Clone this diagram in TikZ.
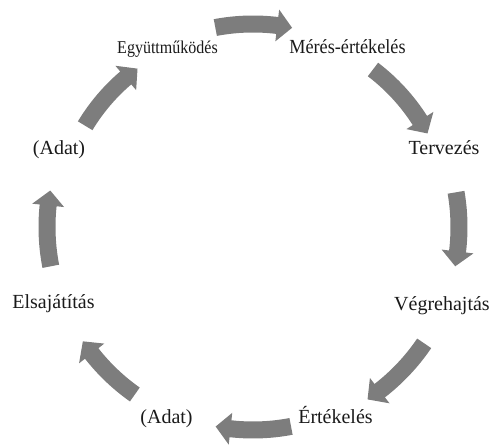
\documentclass[tikz,border=0pt]{standalone}
\usepackage{fontspec}
\setmainfont{Liberation Serif}
\usepackage{graphicx}
\definecolor{arrowgray}{HTML}{7D7D7D}
\definecolor{inkgray}{HTML}{1A1A1A}
% curved block arrow along a circle round the current origin:
% #1 tail angle, #2 tip angle, #3 radius of the centre line (pt)
\newcommand{\cyclearrow}[3]{%
  \pgfmathsetmacro\arHead{#2+15/#3*57.2958}%
  \pgfmathsetmacro\arOut{#3+8.5}%
  \pgfmathsetmacro\arIn{#3-8.5}%
  \pgfmathsetmacro\arWOut{#3+16}%
  \pgfmathsetmacro\arWIn{#3-16}%
  \fill[arrowgray] (#1:\arOut pt)
    arc[start angle=#1, end angle=\arHead, radius=\arOut pt]
    -- (\arHead:\arWOut pt) -- (#2:#3pt) -- (\arHead:\arWIn pt)
    -- (\arHead:\arIn pt)
    arc[start angle=\arHead, end angle=#1, radius=\arIn pt] -- cycle;
}
\begin{document}
\begin{tikzpicture}[x=1pt,y=1pt,
  lbl/.style={anchor=base, inner sep=0pt, text=inkgray,
    font=\fontsize{20}{24}\selectfont}]
\useasboundingbox (0,0) rectangle (491,445);

% the eight steps of the cycle
\node[lbl, font=\fontsize{18}{22}\selectfont] (coop) at (167.5,391)
  {\scalebox{0.89}[1]{Együttműködés}};
\node[lbl] (meas)  at (347.5,391) {\scalebox{0.91}[1]{Mérés-értékelés}};
\node[lbl] (plan)  at (444,290)   {Tervezés};
\node[lbl] (exec)  at (442,134)   {Végrehajtás};
\node[lbl] (eval)  at (335.5,21)  {Értékelés};
\node[lbl] (dataB) at (166.5,21)  {(Adat)};
\node[lbl] (learn) at (53.5,136)  {Elsajátítás};
\node[lbl] (dataL) at (59,290)    {(Adat)};

% clockwise arrows between the steps
\begin{scope}[shift={(253,218)}]
  \cyclearrow{100.7}{78.9}{203}
  \cyclearrow{52.7}{28.2}{198}
  \cyclearrow{9.7}{-11}{206}
  \cyclearrow{-34.2}{-56.4}{207}
  \cyclearrow{-79.2}{-100.6}{203}
  \cyclearrow{-125.2}{-146.1}{205}
  \cyclearrow{191}{169.8}{206}
  \cyclearrow{148.9}{126.1}{196}
\end{scope}
\end{tikzpicture}
\end{document}
